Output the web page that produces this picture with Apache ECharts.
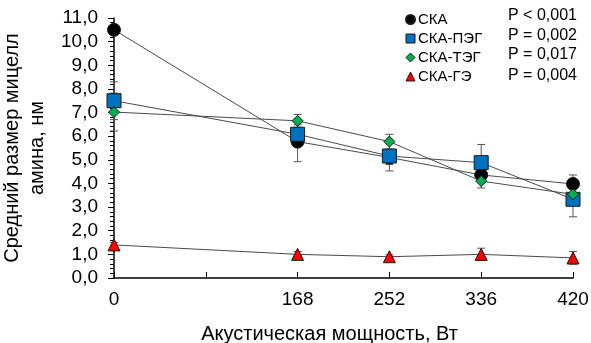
<!DOCTYPE html>
<html>
<head>
<meta charset="utf-8">
<script src="https://cdn.jsdelivr.net/npm/echarts@6/dist/echarts.min.js"></script>
<style>
html,body{margin:0;padding:0;background:#fff;}
#c{width:591px;height:343px;}
</style>
</head>
<body>
<div id="c"></div>
<script>
// Data
var xValues = [0, 168, 252, 336, 420];
var xTickLabels = ['0', '168', '252', '336', '420'];
var seriesNames = ['СКА', 'СКА-ПЭГ', 'СКА-ТЭГ', 'СКА-ГЭ'];
var pValues = ['P < 0,001', 'P = 0,002', 'P = 0,017', 'P = 0,004'];
var skaMean = [10.5, 5.77, 5.1, 4.36, 3.98];
var skaErr  = [0.15, 0.85, 0.3, 0.2, 0.38];
var pegMean = [7.5, 6.08, 5.16, 4.88, 3.33];
var pegErr  = [0.8, 0.4, 0.63, 0.77, 0.74];
var tegMean = [7.02, 6.65, 5.77, 4.1, 3.54];
var tegErr  = [0.8, 0.27, 0.31, 0.29, 0.2];
var geMean  = [1.4, 1.0, 0.9, 1.0, 0.85];
var geErr   = [0.1, 0.12, 0.08, 0.26, 0.27];

var FONT = 'Liberation Sans, Arial, sans-serif';
var chart = echarts.init(document.getElementById('c'));

function pts(mean) { return xValues.map(function (x, i) { return [x, mean[i]]; }); }
function errPts(mean, err) { return xValues.map(function (x, i) { return [x, mean[i] - err[i], mean[i] + err[i]]; }); }

function errSeries(mean, err) {
  return {
    type: 'custom',
    z: 1,
    silent: true,
    data: errPts(mean, err),
    renderItem: function (params, api) {
      var lo = api.coord([api.value(0), api.value(1)]);
      var hi = api.coord([api.value(0), api.value(2)]);
      var w = 4;
      var st = { stroke: '#555', lineWidth: 1 };
      return {
        type: 'group',
        children: [
          { type: 'line', shape: { x1: lo[0], y1: lo[1], x2: hi[0], y2: hi[1] }, style: st },
          { type: 'line', shape: { x1: lo[0] - w, y1: lo[1], x2: lo[0] + w, y2: lo[1] }, style: st },
          { type: 'line', shape: { x1: hi[0] - w, y1: hi[1], x2: hi[0] + w, y2: hi[1] }, style: st }
        ]
      };
    }
  };
}

function lineSeries(name, mean, symbol, size, color, z) {
  return {
    name: name,
    type: 'line',
    z: z,
    data: pts(mean),
    symbol: symbol,
    symbolSize: size,
    showAllSymbol: true,
    lineStyle: { color: '#4a4a4a', width: 1 },
    itemStyle: { color: color, borderColor: '#1a1a1a', borderWidth: 1, opacity: 1 },
    emphasis: { disabled: true },
    animation: false
  };
}

var colors = ['#000000', '#0070C0', '#00B050', '#FF0000'];

chart.setOption({
  animation: false,
  grid: { left: 114, right: 18, top: 18, bottom: 65, containLabel: false, outerBoundsMode: 'none' },
  legend: {
    orient: 'vertical',
    left: 400,
    top: 7,
    itemWidth: 9,
    itemHeight: 9,
    itemGap: 4,
    selectedMode: false,
    textStyle: { fontFamily: FONT, fontSize: 15, color: '#000', padding: [0, 0, 0, -2] },
    data: [
      { name: seriesNames[0], icon: 'circle', itemStyle: { color: colors[0] } },
      { name: seriesNames[1], icon: 'rect', itemStyle: { color: colors[1], borderColor: '#1a1a1a', borderWidth: 1 } },
      { name: seriesNames[2], icon: 'diamond', itemStyle: { color: colors[2], borderColor: '#1a1a1a', borderWidth: 1 } },
      { name: seriesNames[3], icon: 'triangle', itemStyle: { color: colors[3], borderColor: '#1a1a1a', borderWidth: 1 } }
    ]
  },
  graphic: pValues.map(function (t, i) {
    return {
      type: 'text', left: 508, top: [8, 28, 47, 68][i],
      style: { text: t, font: '16px ' + FONT, fill: '#000' }
    };
  }),
  xAxis: {
    type: 'value', min: 0, max: 420, interval: 84,
    axisLine: { show: true, onZero: false, lineStyle: { color: '#000', width: 1.5 } },
    axisTick: { show: true, inside: true, length: 6, lineStyle: { color: '#000', width: 1 } },
    axisLabel: {
      margin: 12, fontFamily: FONT, fontSize: 19, color: '#000',
      formatter: function (v) { var i = xValues.indexOf(v); return i >= 0 ? xTickLabels[i] : ''; }
    },
    splitLine: { show: false },
    name: 'Акустическая мощность, Вт', nameLocation: 'middle', nameGap: 46,
    nameTextStyle: { fontFamily: FONT, fontSize: 20, color: '#000', padding: [0, 28, 0, 0] }
  },
  yAxis: {
    type: 'value', min: 0, max: 11, interval: 1,
    axisLine: { show: true, onZero: false, lineStyle: { color: '#000', width: 1.5 } },
    axisTick: { show: true, inside: false, length: 6, lineStyle: { color: '#000', width: 1 } },
    minorTick: { show: true, splitNumber: 5, length: 4, lineStyle: { color: '#000', width: 1 } },
    axisLabel: {
      margin: 16, fontFamily: FONT, fontSize: 19, color: '#000',
      formatter: function (v) { return v.toFixed(1).replace('.', ','); }
    },
    splitLine: { show: false },
    name: 'Средний размер мицелл\nамина, нм', nameLocation: 'middle', nameGap: 54, nameRotate: 90,
    nameTextStyle: { fontFamily: FONT, fontSize: 20, color: '#000', lineHeight: 25 }
  },
  series: [
    errSeries(skaMean, skaErr),
    errSeries(pegMean, pegErr),
    errSeries(tegMean, tegErr),
    errSeries(geMean, geErr),
    lineSeries(seriesNames[0], skaMean, 'circle', 13, colors[0], 3),
    lineSeries(seriesNames[1], pegMean, 'rect', 14, colors[1], 4),
    lineSeries(seriesNames[2], tegMean, 'diamond', 11, colors[2], 5),
    lineSeries(seriesNames[3], geMean, 'triangle', 12, colors[3], 6)
  ]
});
</script>
</body>
</html>
